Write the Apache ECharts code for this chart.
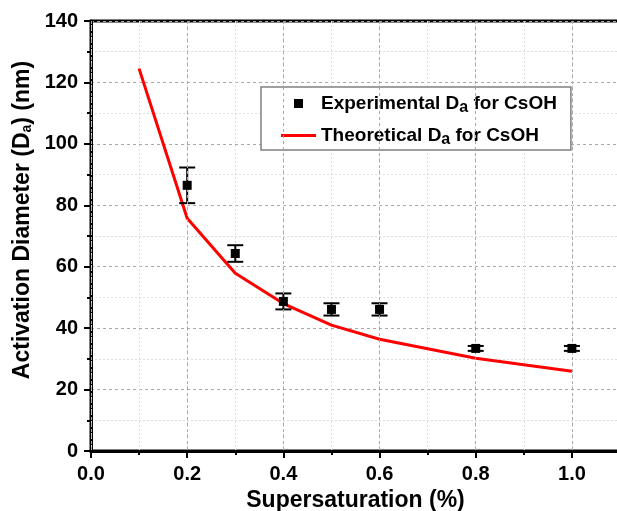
<!DOCTYPE html>
<html>
<head>
<meta charset="utf-8">
<script src="https://cdn.jsdelivr.net/npm/echarts@6/dist/echarts.min.js"></script>
<style>
html,body{margin:0;padding:0;background:#fff;}
#chart{width:617px;height:511px;}
</style>
</head>
<body>
<div id="chart"></div>
<script>
// ---- data ----
const xExp = [0.2, 0.3, 0.4, 0.5, 0.6, 0.8, 1.0];
const yExp = [86.5, 64.3, 48.7, 46.1, 46.1, 33.4, 33.4];
const errExp = [5.8, 2.7, 2.6, 2.0, 2.0, 0.8, 0.8];
const xTheo = [0.1, 0.2, 0.3, 0.4, 0.5, 0.6, 0.8, 1.0];
const yTheo = [124.5, 75.8, 57.9, 48.0, 41.0, 36.4, 30.2, 26.0];
const xAxisTitle = 'Supersaturation (%)';
const yAxisTitle = ['Activation Diameter (D', 'a', ') (nm)'];
const expName = 'Experimental Da for CsOH';
const theoName = 'Theoretical Da for CsOH';

const FONT = 'Liberation Sans, Arial, sans-serif';
const chart = echarts.init(document.getElementById('chart'));

const expData = xExp.map((x, i) => [x, yExp[i]]);
const errData = xExp.map((x, i) => [x, yExp[i], errExp[i]]);
const theoData = xTheo.map((x, i) => [x, yTheo[i]]);

const majorSplit = {show: true, lineStyle: {color: '#a8a8a8', width: 1, type: [3, 3]}};
const minorSplit = {show: true, lineStyle: {color: '#dddddd', width: 1, type: [2, 2]}};

chart.setOption({
  animation: false,
  backgroundColor: '#fff',
  grid: {left: 91, top: 21, right: -3, bottom: 60, containLabel: false, outerBoundsMode: 'none',
    show: true, borderColor: '#000', borderWidth: 3, backgroundColor: 'transparent'},
  xAxis: [
    {
      type: 'value', min: 0, max: 1.1, interval: 0.2,
      name: xAxisTitle, nameLocation: 'middle', nameGap: 37,
      nameTextStyle: {fontFamily: FONT, fontWeight: 'bold', fontSize: 23, color: '#000'},
      axisLine: {show: true, onZero: false, lineStyle: {color: '#000', width: 3}},
      axisTick: {show: true, inside: false, length: 7, lineStyle: {color: '#000', width: 2}},
      axisLabel: {show: true, margin: 13, fontFamily: FONT, fontWeight: 'bold', fontSize: 20, color: '#000',
        showMaxLabel: false, formatter: v => v > 1.05 ? '' : v.toFixed(1)},
      splitLine: majorSplit,
      z: 5
    },
    {
      type: 'value', min: 0, max: 1.1, interval: 0.1, position: 'bottom',
      axisLine: {show: false},
      axisTick: {show: true, inside: false, length: 4, lineStyle: {color: '#000', width: 2}},
      axisLabel: {show: false},
      splitLine: minorSplit,
      z: 1
    }
  ],
  yAxis: {
    type: 'value', min: 0, max: 140, interval: 20,
    name: '{t|' + yAxisTitle[0] + '}{s|' + yAxisTitle[1] + '}{t|' + yAxisTitle[2] + '}',
    nameLocation: 'middle', nameGap: 50,
    nameTextStyle: {
      fontFamily: FONT, fontWeight: 'bold', fontSize: 23, color: '#000',
      padding: [0, 0, 0, 32],
      rich: {
        t: {fontFamily: FONT, fontWeight: 'bold', fontSize: 23, color: '#000'},
        s: {fontFamily: FONT, fontWeight: 'bold', fontSize: 14, color: '#000', padding: [9, 0, 0, 0]}
      }
    },
    axisLine: {show: true, lineStyle: {color: '#000', width: 3}},
    axisTick: {show: true, inside: false, length: 7, lineStyle: {color: '#000', width: 2}},
    minorTick: {show: true, splitNumber: 2, length: 4, lineStyle: {color: '#000', width: 2}},
    axisLabel: {margin: 13, fontFamily: FONT, fontWeight: 'bold', fontSize: 20, color: '#000'},
    splitLine: majorSplit,
    minorSplitLine: minorSplit
  },
  legend: {
    orient: 'vertical', left: 261, top: 87,
    padding: [7, 14, 2, 20], itemGap: 10,
    itemWidth: 35, itemHeight: 9,
    borderColor: '#808080', borderWidth: 1.5, backgroundColor: '#fff',
    selectedMode: false,
    data: [
      {name: expName, icon: 'path://M0 0H10V10H0Z', itemStyle: {color: '#000', opacity: 1}},
      {name: theoName, icon: 'path://M0 0H35V3H0Z', itemStyle: {color: '#ff0000', opacity: 1}}
    ],
    formatter: function (name) {
      const parts = name.split('Da');
      return '{t|' + parts[0] + 'D}{s|a}{t|' + parts[1] + '}';
    },
    textStyle: {
      fontFamily: FONT, fontWeight: 'bold', fontSize: 19, color: '#000',
      rich: {
        t: {fontFamily: FONT, fontWeight: 'bold', fontSize: 19, color: '#000', lineHeight: 22},
        s: {fontFamily: FONT, fontWeight: 'bold', fontSize: 16, color: '#000', padding: [9, 0, 0, 0]}
      }
    }
  },
  series: [
    {
      name: theoName, type: 'line', data: theoData,
      showSymbol: false, symbol: 'none',
      lineStyle: {color: '#ff0000', width: 3}, itemStyle: {color: '#ff0000'},
      z: 3
    },
    {
      name: 'errors', type: 'custom', data: errData, z: 4,
      renderItem: function (params, api) {
        const x = api.value(0), y = api.value(1), e = api.value(2);
        const top = api.coord([x, y + e]);
        const bot = api.coord([x, y - e]);
        const hw = 8;
        const st = {stroke: '#000', lineWidth: 2};
        return {type: 'group', children: [
          {type: 'line', shape: {x1: top[0], y1: top[1], x2: bot[0], y2: bot[1]}, style: st},
          {type: 'line', shape: {x1: top[0] - hw, y1: top[1], x2: top[0] + hw, y2: top[1]}, style: st},
          {type: 'line', shape: {x1: bot[0] - hw, y1: bot[1], x2: bot[0] + hw, y2: bot[1]}, style: st}
        ]};
      }
    },
    {
      name: expName, type: 'scatter', data: expData,
      symbol: 'rect', symbolSize: 9,
      itemStyle: {color: '#000', opacity: 1},
      z: 5
    }
  ]
});
</script>
</body>
</html>
